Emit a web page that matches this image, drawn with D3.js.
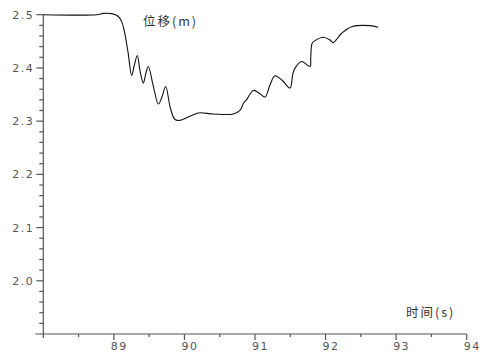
<!DOCTYPE html>
<html>
<head>
<meta charset="utf-8">
<script src="https://cdn.jsdelivr.net/npm/d3@7"></script>
<style>
  html, body { margin: 0; padding: 0; background: #fff; }
  svg { display: block; }
  .tick-label { font-family: "DejaVu Sans", sans-serif; font-size: 11px; fill: #555; letter-spacing: 1.5px; }
  .axis-title { font-family: "Noto Sans CJK SC", "DejaVu Sans", sans-serif; font-size: 12.5px; fill: #333; letter-spacing: 2px; }
</style>
</head>
<body>
<svg id="chart" width="480" height="352"></svg>
<script>
// Displacement over time
const time = [88.0, 88.76, 88.85, 88.97, 89.06, 89.11, 89.15, 89.20, 89.253, 89.29,
  89.332, 89.37, 89.417, 89.45, 89.488, 89.56, 89.63, 89.68, 89.734, 89.80,
  89.866, 89.937, 90.079, 90.196, 90.409, 90.692, 90.787, 90.84, 90.882, 90.976,
  91.071, 91.142, 91.213, 91.283, 91.378, 91.496, 91.534, 91.567, 91.662, 91.779,
  91.79, 91.81, 91.85, 91.968, 92.063, 92.109, 92.228, 92.37, 92.629, 92.747];
const displacement = [2.5, 2.5, 2.5025, 2.502, 2.497, 2.487, 2.468, 2.43, 2.3858, 2.405,
  2.4232, 2.395, 2.3715, 2.388, 2.4026, 2.365, 2.3322, 2.345, 2.3652, 2.325,
  2.303, 2.3015, 2.309, 2.3154, 2.3135, 2.3135, 2.3202, 2.334, 2.3403, 2.3577,
  2.3515, 2.3453, 2.3684, 2.3852, 2.3777, 2.3622, 2.3871, 2.3996, 2.412, 2.4026,
  2.42, 2.4464, 2.4513, 2.4577, 2.4526, 2.4476, 2.4652, 2.4775, 2.4794, 2.4764];

const xMajorTicks = [89, 90, 91, 92, 93, 94];
const xMinorTicks = [88.5, 89.5, 90.5, 91.5, 92.5, 93.5];
const yMajorTicks = [2.0, 2.1, 2.2, 2.3, 2.4, 2.5];
const yTickLabels = ["2.0", "2.1", "2.2", "2.3", "2.4", "2.5"];
const yMinorTicks = d3.range(1.92, 2.5, 0.02).map(v => +v.toFixed(2))
  .filter(v => !yMajorTicks.some(m => Math.abs(m - v) < 1e-6));
const yTitle = "位移(m)";
const xTitle = "时间(s)";

const svg = d3.select("#chart");
const x = d3.scaleLinear().domain([88, 94]).range([43.3, 466.7]);
const y = d3.scaleLinear().domain([1.9, 2.5]).range([334, 14.7]);

const axisColor = "#555";

// axis lines
svg.append("line").attr("x1", x(88)).attr("x2", x(88))
  .attr("y1", y(2.5)).attr("y2", y(1.9) + 4)
  .attr("stroke", axisColor).attr("stroke-width", 1.2);
svg.append("line").attr("x1", x(88) - 8).attr("x2", x(94))
  .attr("y1", y(1.9)).attr("y2", y(1.9))
  .attr("stroke", axisColor).attr("stroke-width", 1.2);

// y ticks
svg.selectAll(".ymaj").data(yMajorTicks).enter().append("line")
  .attr("x1", x(88) - 7).attr("x2", x(88))
  .attr("y1", d => y(d)).attr("y2", d => y(d))
  .attr("stroke", axisColor).attr("stroke-width", 1.2);
svg.selectAll(".ymin").data(yMinorTicks).enter().append("line")
  .attr("x1", x(88) - 4).attr("x2", x(88))
  .attr("y1", d => y(d)).attr("y2", d => y(d))
  .attr("stroke", axisColor).attr("stroke-width", 1.2);
svg.selectAll(".ylab").data(yMajorTicks).enter().append("text")
  .attr("class", "tick-label")
  .attr("x", x(88) - 9).attr("y", d => y(d) + 4)
  .attr("text-anchor", "end")
  .text((d, i) => yTickLabels[i]);

// x ticks
svg.selectAll(".xmaj").data(xMajorTicks).enter().append("line")
  .attr("x1", d => x(d)).attr("x2", d => x(d))
  .attr("y1", y(1.9)).attr("y2", y(1.9) + 6)
  .attr("stroke", axisColor).attr("stroke-width", 1.2);
svg.selectAll(".xmin").data(xMinorTicks).enter().append("line")
  .attr("x1", d => x(d)).attr("x2", d => x(d))
  .attr("y1", y(1.9)).attr("y2", y(1.9) + 3)
  .attr("stroke", axisColor).attr("stroke-width", 1.2);
svg.selectAll(".xlab").data(xMajorTicks).enter().append("text")
  .attr("class", "tick-label")
  .attr("x", d => x(d) - 3).attr("y", y(1.9) + 16)
  .attr("text-anchor", "start")
  .text(d => d);

// titles
svg.append("text").attr("class", "axis-title")
  .attr("x", 143).attr("y", 26).text(yTitle);
svg.append("text").attr("class", "axis-title")
  .attr("x", 406).attr("y", 317).text(xTitle);

// curve
const pts = time.map((t, i) => [t, displacement[i]]);
const line = d3.line().x(d => x(d[0])).y(d => y(d[1])).curve(d3.curveCatmullRom.alpha(0.5));
svg.append("path").datum(pts)
  .attr("d", line)
  .attr("fill", "none")
  .attr("stroke", "#111")
  .attr("stroke-width", 1.1);
</script>
</body>
</html>
